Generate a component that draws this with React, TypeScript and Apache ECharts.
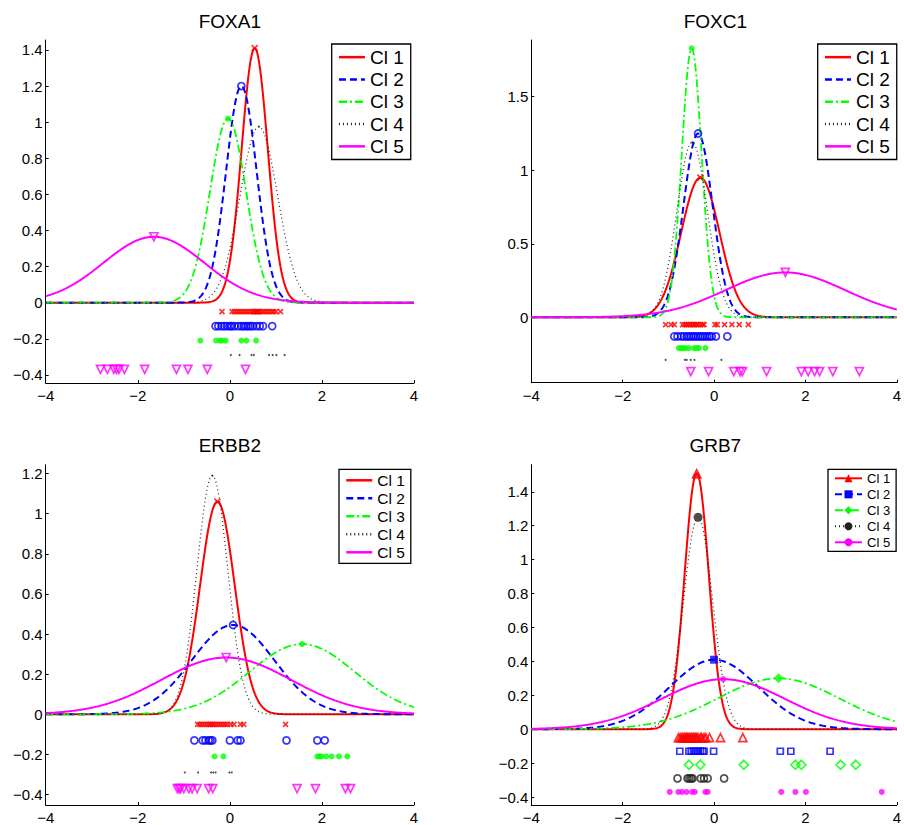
import React, { useEffect, useRef } from "react";
import * as echarts from "echarts";

// ---------- data ----------
const geneTitles = ["FOXA1", "FOXC1", "ERBB2", "GRB7"];
const clusterNames = ["Cl 1", "Cl 2", "Cl 3", "Cl 4", "Cl 5"];
const xTicks = [-4, -2, 0, 2, 4];
const rowLevels = [-0.05, -0.13, -0.21, -0.29, -0.37];

// Gaussian fit of each cluster: mean and peak density
const foxa1Means = [0.54, 0.25, -0.04, 0.63, -1.65];
const foxa1Peaks = [1.41, 1.2, 1.02, 0.975, 0.365];
const foxc1Means = [-0.3, -0.35, -0.49, -0.48, 1.56];
const foxc1Peaks = [0.95, 1.25, 1.83, 1.19, 0.305];
const erbb2Means = [-0.27, 0.07, 1.57, -0.38, -0.08];
const erbb2Peaks = [1.06, 0.445, 0.35, 1.19, 0.283];
const grb7Means = [-0.38, 0.0, 1.41, -0.35, 0.2];
const grb7Peaks = [1.51, 0.41, 0.3, 1.25, 0.295];

// sample values (rug rows) per cluster
const foxa1Cl1 = [-0.17, 0.05, 0.1, 0.15, 0.2, 0.25, 0.3, 0.35, 0.4, 0.45, 0.5, 0.52, 0.55, 0.58, 0.6, 0.62, 0.65, 0.7, 0.75, 0.8, 0.85, 0.9, 0.95, 1.0, 1.1];
const foxa1Cl2 = [-0.31, -0.25, -0.18, -0.12, -0.06, 0.0, 0.04, 0.1, 0.18, 0.25, 0.3, 0.35, 0.4, 0.45, 0.5, 0.58, 0.65, 0.72, 0.92];
const foxa1Cl3 = [-0.64, -0.3, -0.22, -0.17, -0.09, 0.25, 0.36, 0.57];
const foxa1Cl4 = [0.02, 0.21, 0.47, 0.52, 0.85, 0.93, 1.01, 1.19];
const foxa1Cl5 = [-2.81, -2.66, -2.52, -2.46, -2.41, -2.29, -1.85, -1.16, -0.91, -0.49, 0.34];

const foxc1Cl1 = [-1.06, -0.94, -0.87, -0.69, -0.64, -0.6, -0.56, -0.52, -0.48, -0.45, -0.42, -0.38, -0.35, -0.3, -0.25, -0.22, 0.02, 0.07, 0.23, 0.39, 0.55, 0.75];
const foxc1Cl2 = [-0.87, -0.8, -0.72, -0.66, -0.6, -0.55, -0.5, -0.45, -0.4, -0.35, -0.3, -0.25, -0.2, -0.15, -0.1, -0.05, 0.04, 0.29];
const foxc1Cl3 = [-0.77, -0.72, -0.67, -0.62, -0.55, -0.44, -0.38, -0.33, -0.19];
const foxc1Cl4 = [-1.06, -0.64, -0.6, -0.51, -0.43, 0.16];
const foxc1Cl5 = [-0.51, -0.12, 0.43, 0.57, 0.62, 1.15, 1.91, 2.06, 2.2, 2.31, 2.6, 3.18];

const erbb2Cl1 = [-0.7, -0.65, -0.6, -0.55, -0.5, -0.45, -0.42, -0.38, -0.35, -0.3, -0.25, -0.2, -0.15, -0.1, -0.05, 0.02, 0.09, 0.23, 0.3, 1.21];
const erbb2Cl2 = [-0.77, -0.59, -0.53, -0.46, -0.42, -0.38, 0.0, 0.17, 0.23, 1.23, 1.9, 2.06];
const erbb2Cl3 = [-0.33, -0.14, 1.9, 1.95, 1.99, 2.09, 2.21, 2.37, 2.55];
const erbb2Cl4 = [-0.98, -0.69, -0.41, -0.36, -0.31, -0.01, 0.04];
const erbb2Cl5 = [-1.14, -1.1, -1.07, -1.0, -0.89, -0.82, -0.71, -0.46, -0.37, 1.46, 1.86, 2.51, 2.62];

const grb7Cl1 = [-0.78, -0.74, -0.7, -0.68, -0.65, -0.62, -0.6, -0.58, -0.55, -0.53, -0.5, -0.48, -0.45, -0.42, -0.4, -0.38, -0.35, -0.3, -0.27, -0.22, -0.18, -0.1, 0.14, 0.63];
const grb7Cl2 = [-0.75, -0.55, -0.5, -0.45, -0.4, -0.35, -0.3, -0.25, -0.22, -0.01, 1.45, 1.68, 2.54];
const grb7Cl3 = [-0.55, -0.3, 0.65, 1.78, 1.91, 2.77, 3.1];
const grb7Cl4 = [-0.8, -0.58, -0.54, -0.5, -0.47, -0.29, -0.22, -0.14, 0.22];
const grb7Cl5 = [-0.97, -0.78, -0.7, -0.6, -0.48, -0.42, -0.19, -0.14, 1.47, 1.78, 2.01, 3.67];

// y-axis ranges and tick labels
const foxa1YRange = [-0.445, 1.455];
const foxc1YRange = [-0.445, 1.886];
const erbb2YRange = [-0.452, 1.244];
const grb7YRange = [-0.447, 1.56];
const foxa1YTicks = [-0.4, -0.2, 0, 0.2, 0.4, 0.6, 0.8, 1, 1.2, 1.4];
const foxc1YTicks = [0, 0.5, 1, 1.5];
const erbb2YTicks = [-0.4, -0.2, 0, 0.2, 0.4, 0.6, 0.8, 1, 1.2];
const grb7YTicks = [-0.4, -0.2, 0, 0.2, 0.4, 0.6, 0.8, 1, 1.2, 1.4];

// ---------- styling ----------
const FONT = "'Liberation Sans', Arial, Helvetica, sans-serif";
const colors = ["#ff0000", "#0000ff", "#00ff00", "#222222", "#ff00ff"];
const lineWidths = [2, 2, 1.8, 1.2, 2];
const lineDashes: any[] = ["solid", [7, 4], [8, 3, 2, 3], [1, 3], "solid"];
const X_SYMBOL = "path://M0,0L10,10M10,0L0,10";

const clear = "rgba(0,0,0,0)";

// style A (FOXA1, FOXC1, ERBB2): x, o, filled dot, point, down triangle
const rugStyleA = [
  { symbol: X_SYMBOL, size: 5, rotate: 0, filled: false },
  { symbol: "circle", size: 7, rotate: 0, filled: false },
  { symbol: "circle", size: 6, rotate: 0, filled: true },
  { symbol: "circle", size: 2, rotate: 0, filled: true },
  { symbol: "triangle", size: 8, rotate: 180, filled: false },
];
const peakStyleA = [
  { symbol: X_SYMBOL, size: 6, rotate: 0, filled: false },
  { symbol: "circle", size: 7, rotate: 0, filled: false },
  { symbol: "circle", size: 6, rotate: 0, filled: true },
  { symbol: "circle", size: 2, rotate: 0, filled: true },
  { symbol: "triangle", size: 8, rotate: 180, filled: false },
];
// style B (GRB7)
const rugStyleB = [
  { symbol: "triangle", size: 8, rotate: 0, filled: false },
  { symbol: "rect", size: 6, rotate: 0, filled: false },
  { symbol: "diamond", size: 9, rotate: 0, filled: false },
  { symbol: "circle", size: 7, rotate: 0, filled: false },
  { symbol: "circle", size: 6, rotate: 0, filled: true },
];
const peakStyleB = [
  { symbol: "triangle", size: 11, rotate: 0, filled: true },
  { symbol: "rect", size: 8, rotate: 0, filled: true },
  { symbol: "diamond", size: 10, rotate: 0, filled: true },
  { symbol: "circle", size: 9, rotate: 0, filled: true },
  { symbol: "circle", size: 6, rotate: 0, filled: true },
];

type PanelCfg = {
  title: string;
  means: number[];
  peaks: number[];
  points: number[][];
  yRange: number[];
  yTicks: number[];
  styleB: boolean;
  pos: number[];
  size: number[];
  grid: { left: number; top: number; width: number; height: number };
  legend: { left: number; top: number; font: number; row: number; itemW: number; itemH: number; pad: number[] };
};

const panels: PanelCfg[] = [
  {
    title: geneTitles[0], means: foxa1Means, peaks: foxa1Peaks,
    points: [foxa1Cl1, foxa1Cl2, foxa1Cl3, foxa1Cl4, foxa1Cl5],
    yRange: foxa1YRange, yTicks: foxa1YTicks, styleB: false,
    pos: [0, 0], size: [452, 412],
    grid: { left: 45.7, top: 40, width: 368.3, height: 343 },
    legend: { left: 331.7, top: 44, font: 19, row: 22.3, itemW: 26, itemH: 20, pad: [2, 7, 2, 6] },
  },
  {
    title: geneTitles[1], means: foxc1Means, peaks: foxc1Peaks,
    points: [foxc1Cl1, foxc1Cl2, foxc1Cl3, foxc1Cl4, foxc1Cl5],
    yRange: foxc1YRange, yTicks: foxc1YTicks, styleB: false,
    pos: [452, 0], size: [452, 412],
    grid: { left: 79.3, top: 40, width: 368, height: 342.7 },
    legend: { left: 365.7, top: 44, font: 19, row: 22.3, itemW: 26, itemH: 20, pad: [2, 7, 2, 6] },
  },
  {
    title: geneTitles[2], means: erbb2Means, peaks: erbb2Peaks,
    points: [erbb2Cl1, erbb2Cl2, erbb2Cl3, erbb2Cl4, erbb2Cl5],
    yRange: erbb2YRange, yTicks: erbb2YTicks, styleB: false,
    pos: [0, 412], size: [452, 413],
    grid: { left: 45.7, top: 52.7, width: 368.3, height: 344 },
    legend: { left: 339, top: 57.3, font: 15.5, row: 18, itemW: 26, itemH: 16, pad: [2, 6, 2, 6] },
  },
  {
    title: geneTitles[3], means: grb7Means, peaks: grb7Peaks,
    points: [grb7Cl1, grb7Cl2, grb7Cl3, grb7Cl4, grb7Cl5],
    yRange: grb7YRange, yTicks: grb7YTicks, styleB: true,
    pos: [452, 412], size: [452, 413],
    grid: { left: 79.3, top: 52.7, width: 368, height: 344 },
    legend: { left: 376, top: 57.3, font: 13, row: 16, itemW: 27, itemH: 10, pad: [1, 6, 1, 6] },
  },
];

const fmtTick = (v: number) => String(v).replace("-", "\u2212");

// normal density with given mean and peak height (sd = 1/(peak*sqrt(2*pi)))
function densityCurve(mean: number, peak: number): number[][] {
  const out: number[][] = [];
  for (let i = 0; i <= 400; i++) {
    const x = -4 + i * 0.02;
    out.push([x, peak * Math.exp(-Math.PI * peak * peak * (x - mean) * (x - mean))]);
  }
  return out;
}

function markerItemStyle(color: string, filled: boolean) {
  return filled
    ? { color, borderColor: color, borderWidth: 0 }
    : { color: clear, borderColor: color, borderWidth: 1.7 };
}

function buildOption(cfg: PanelCfg): any {
  const rug = cfg.styleB ? rugStyleB : rugStyleA;
  const pk = cfg.styleB ? peakStyleB : peakStyleA;
  const series: any[] = [];
  for (let i = 0; i < 5; i++) {
    series.push({
      type: "line",
      name: clusterNames[i],
      data: densityCurve(cfg.means[i], cfg.peaks[i]),
      symbol: cfg.styleB ? pk[i].symbol : "none",
      symbolSize: 8,
      showSymbol: false,
      lineStyle: { color: colors[i], width: lineWidths[i], type: lineDashes[i] },
      itemStyle: { color: colors[i] },
      silent: true,
      z: 2,
    });
  }
  for (let i = 0; i < 5; i++) {
    series.push({
      type: "scatter",
      name: clusterNames[i] + " peak",
      data: [[cfg.means[i], cfg.peaks[i]]],
      symbol: pk[i].symbol,
      symbolSize: pk[i].size,
      symbolRotate: pk[i].rotate,
      itemStyle: markerItemStyle(colors[i], pk[i].filled),
      silent: true,
      z: 4,
    });
  }
  for (let i = 0; i < 5; i++) {
    series.push({
      type: "scatter",
      name: clusterNames[i] + " samples",
      data: cfg.points[i].map((v) => [v, rowLevels[i]]),
      symbol: rug[i].symbol,
      symbolSize: rug[i].size,
      symbolRotate: rug[i].rotate,
      itemStyle: markerItemStyle(colors[i], rug[i].filled),
      silent: true,
      z: 3,
    });
  }
  const g = cfg.grid;
  const lg = cfg.legend;
  const legendItemStyle = cfg.styleB
    ? {}
    : { color: clear, borderColor: clear, borderWidth: 0, opacity: 0 };
  return {
    animation: false,
    backgroundColor: "#fff",
    textStyle: { fontFamily: FONT },
    grid: { left: g.left, top: g.top, width: g.width, height: g.height, containLabel: false },
    graphic: [
      {
        type: "text",
        x: g.left + g.width / 2,
        y: g.top - 19,
        style: {
          text: cfg.title,
          fontSize: 19,
          fontFamily: FONT,
          fill: "#000",
          textAlign: "center",
          textVerticalAlign: "middle",
        },
      },
    ],
    legend: {
      orient: "vertical",
      left: lg.left,
      top: lg.top,
      padding: lg.pad,
      itemGap: 0,
      itemWidth: lg.itemW,
      itemHeight: lg.itemH,
      borderColor: "#000",
      borderWidth: 1.3,
      borderRadius: 0,
      backgroundColor: "#fff",
      selectedMode: false,
      itemStyle: legendItemStyle,
      lineStyle: { width: cfg.styleB ? 2 : 2.5 },
      data: clusterNames,
      textStyle: { fontSize: lg.font, lineHeight: lg.row, color: "#000", fontFamily: FONT },
    },
    xAxis: {
      type: "value",
      min: -4,
      max: 4,
      interval: 2,
      axisLine: { show: true, onZero: false, lineStyle: { color: "#000", width: 1 } },
      axisTick: { show: true, inside: true, length: 3, lineStyle: { color: "#000" } },
      axisLabel: {
        show: true,
        margin: 5,
        fontSize: 15,
        color: "#000",
        fontFamily: FONT,
        formatter: (v: number) => (xTicks.indexOf(v) >= 0 ? fmtTick(v) : ""),
      },
      splitLine: { show: false },
    },
    yAxis: {
      type: "value",
      min: cfg.yRange[0],
      max: cfg.yRange[1],
      axisLine: { show: true, onZero: false, lineStyle: { color: "#000", width: 1 } },
      axisTick: { show: true, inside: true, length: 3, customValues: cfg.yTicks, lineStyle: { color: "#000" } },
      axisLabel: {
        show: true,
        margin: 3,
        fontSize: 15,
        color: "#000",
        fontFamily: FONT,
        customValues: cfg.yTicks,
        formatter: (v: number) => fmtTick(v),
      },
      splitLine: { show: false },
    },
    series,
  };
}

function Panel({ cfg }: { cfg: PanelCfg }) {
  const ref = useRef<HTMLDivElement>(null);
  useEffect(() => {
    if (!ref.current) return;
    const chart = echarts.init(ref.current, null, { renderer: "svg" });
    chart.setOption(buildOption(cfg));
    return () => chart.dispose();
  }, [cfg]);
  return (
    <div
      ref={ref}
      style={{ position: "absolute", left: cfg.pos[0], top: cfg.pos[1], width: cfg.size[0], height: cfg.size[1] }}
    />
  );
}

export default function App() {
  return (
    <div style={{ position: "absolute", left: 0, top: 0, width: 904, height: 825, background: "#fff" }}>
      {panels.map((p) => (
        <Panel key={p.title} cfg={p} />
      ))}
    </div>
  );
}
